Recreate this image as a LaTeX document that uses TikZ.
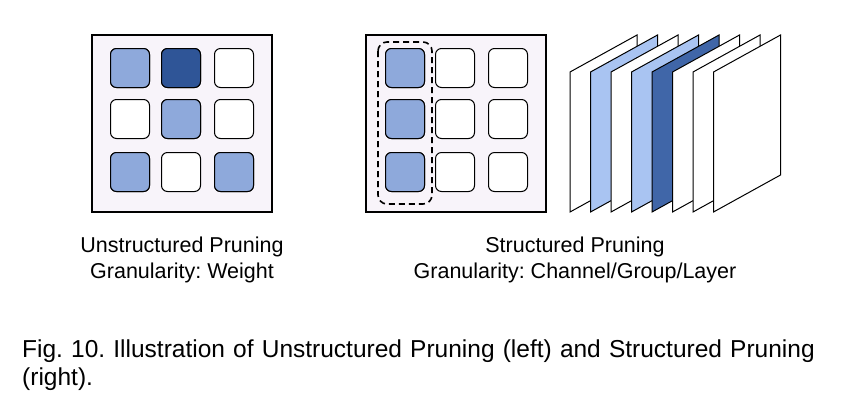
\documentclass[tikz,border=0pt]{standalone}
\usepackage{fontspec}
\setmainfont{Liberation Sans}
\begin{document}
\frenchspacing
\begin{tikzpicture}[x=1pt,y=-1pt,
 panel/.style={draw=black,line width=1.2pt,fill=bgp},
 cell/.style={draw=black,line width=1pt,rounded corners=6pt,fill=white,minimum size=39pt,inner sep=0pt},
 mid/.style={fill=midb},
 dark/.style={fill=darkb},
 plane/.style={draw=black,line width=1pt,fill=white},
 lbl/.style={font=\fontsize{21.5}{26}\selectfont,align=center}]
\definecolor{bgp}{HTML}{F8F4FA}
\definecolor{midb}{HTML}{8EA9DB}
\definecolor{darkb}{HTML}{2F5597}
\definecolor{lightb}{HTML}{A9C4F2}
\definecolor{planed}{HTML}{4066A8}
\useasboundingbox (0,0) rectangle (850,408);
% left panel
\draw[panel] (92,35) rectangle (272,212);
\foreach \r/\y in {1/68,2/119,3/172}{
 \foreach \c/\x in {1/130,2/181,3/234}{
  \node[cell] (L\r\c) at (\x,\y) {};
 }}
\node[cell,mid] at (L11) {};
\node[cell,dark] at (L12) {};
\node[cell,mid] at (L22) {};
\node[cell,mid] at (L31) {};
\node[cell,mid] at (L33) {};
% right panel
\draw[panel] (366,35) rectangle (546,212);
\foreach \r/\y in {1/68,2/119,3/172}{
 \foreach \c/\x in {1/405,2/455,3/508}{
  \node[cell] (R\r\c) at (\x,\y) {};
 }}
\node[cell,mid] at (R11) {};
\node[cell,mid] at (R21) {};
\node[cell,mid] at (R31) {};
\draw[line width=1.6pt,dash pattern=on 6pt off 4pt,rounded corners=9pt] (378,42) rectangle (432,204);
% planes
\foreach \i/\col in {0/white,1/lightb,2/white,3/lightb,4/planed,5/white,6/white,7/white}{
 \draw[plane,fill=\col] (570+20.5*\i,212) -- (570+20.5*\i,72) -- (637+20.5*\i,35) -- (637+20.5*\i,175) -- cycle;
}
\node[lbl] (t1) at (182,260) {Unstructured Pruning\\Granularity: Weight};
\node[lbl] (t2) at (575,260) {Structured Pruning\\Granularity: Channel/Group/Layer};
\node[font=\fontsize{24.5}{28}\selectfont,align=left,anchor=north west,inner sep=0pt,text width=830pt] (cap) at (22,340) {Fig. 10. Illustration of Unstructured Pruning (left) and Structured Pruning\\(right).};
\end{tikzpicture}
\end{document}
